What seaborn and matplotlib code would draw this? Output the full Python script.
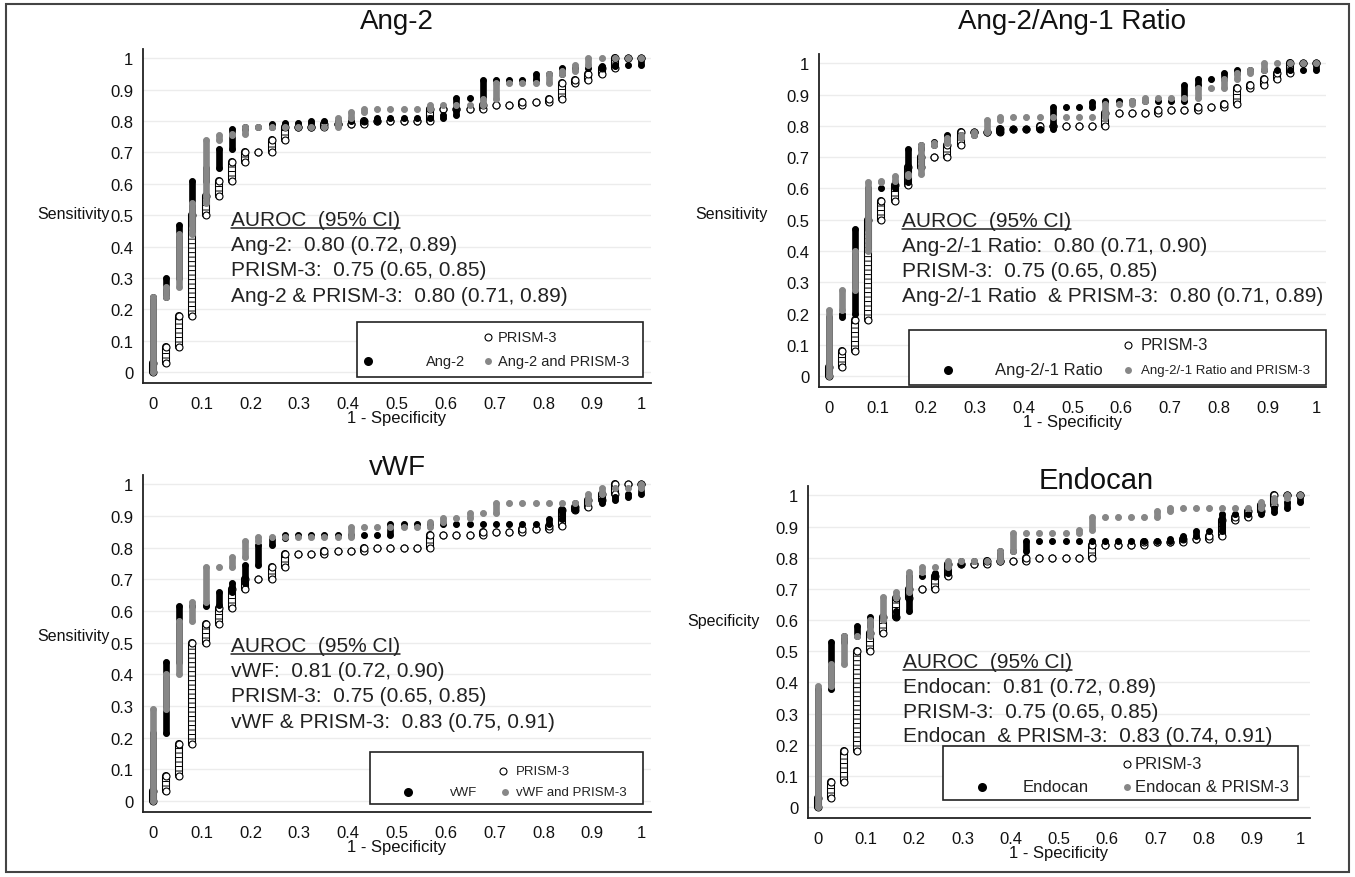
import numpy as np
import pandas as pd
import matplotlib.pyplot as plt
import seaborn as sns
from matplotlib.lines import Line2D
from matplotlib.patches import Rectangle

W, H = 1355, 878

# ROC data: number of false positives out of 37 non-events (columns),
# sensitivity reached at the top of each column
N_NEG = 37
FP = list(range(38))

PRISM3 = [0.03, 0.08, 0.18, 0.50, 0.56, 0.61, 0.67, 0.70, 0.70, 0.74, 0.78, 0.78, 0.78,
          0.79, 0.79, 0.79, 0.80, 0.80, 0.80, 0.80, 0.80, 0.84, 0.84, 0.84, 0.84, 0.85,
          0.85, 0.85, 0.86, 0.86, 0.87, 0.92, 0.93, 0.95, 0.97, 1.00, 1.00, 1.00]

ANG2 = [0.24, 0.30, 0.47, 0.61, 0.65, 0.71, 0.775, 0.78, 0.78, 0.79, 0.795, 0.795, 0.80,
        0.80, 0.80, 0.80, 0.80, 0.81, 0.81, 0.81, 0.81, 0.81, 0.82, 0.875, 0.875, 0.93,
        0.93, 0.93, 0.93, 0.95, 0.95, 0.97, 0.97, 0.97, 0.975, 0.98, 0.98, 1.00]
ANG2_PRISM3 = [0.24, 0.27, 0.44, 0.54, 0.74, 0.755, 0.76, 0.78, 0.78, 0.78, 0.78, 0.78, 0.78,
               0.78, 0.81, 0.83, 0.84, 0.84, 0.84, 0.84, 0.84, 0.85, 0.85, 0.85, 0.85, 0.87,
               0.92, 0.92, 0.92, 0.92, 0.95, 0.96, 0.98, 1.00, 1.00, 1.00, 1.00, 1.00]

RATIO = [0.19, 0.20, 0.47, 0.60, 0.60, 0.62, 0.725, 0.74, 0.75, 0.77, 0.77, 0.78, 0.78,
         0.79, 0.79, 0.79, 0.79, 0.86, 0.86, 0.86, 0.875, 0.88, 0.88, 0.88, 0.88, 0.88,
         0.88, 0.93, 0.95, 0.95, 0.97, 0.98, 0.98, 0.98, 0.98, 0.98, 0.98, 1.00]
RATIO_PRISM3 = [0.21, 0.275, 0.40, 0.62, 0.625, 0.64, 0.645, 0.74, 0.745, 0.76, 0.77, 0.78,
                0.82, 0.83, 0.83, 0.83, 0.83, 0.83, 0.83, 0.83, 0.83, 0.87, 0.87, 0.88, 0.89,
                0.89, 0.89, 0.89, 0.92, 0.92, 0.95, 0.97, 0.98, 1.00, 1.00, 1.00, 1.00, 1.00]

VWF = [0.215, 0.44, 0.615, 0.615, 0.62, 0.66, 0.69, 0.745, 0.81, 0.83, 0.84, 0.84, 0.84,
       0.84, 0.84, 0.84, 0.84, 0.84, 0.875, 0.875, 0.875, 0.875, 0.875, 0.875, 0.875, 0.875,
       0.875, 0.875, 0.875, 0.875, 0.89, 0.92, 0.94, 0.94, 0.95, 0.96, 0.97, 1.00]
VWF_PRISM3 = [0.29, 0.40, 0.57, 0.63, 0.74, 0.74, 0.77, 0.82, 0.835, 0.835, 0.835, 0.835,
              0.835, 0.835, 0.835, 0.865, 0.865, 0.865, 0.865, 0.865, 0.865, 0.88, 0.895,
              0.895, 0.91, 0.91, 0.94, 0.94, 0.94, 0.94, 0.94, 0.94, 0.94, 0.97, 0.99, 0.99,
              0.99, 1.00]

ENDOCAN = [0.38, 0.53, 0.55, 0.58, 0.61, 0.61, 0.63, 0.74, 0.74, 0.75, 0.78, 0.79, 0.79,
           0.79, 0.82, 0.82, 0.855, 0.855, 0.855, 0.855, 0.855, 0.855, 0.855, 0.855, 0.855,
           0.855, 0.855, 0.86, 0.87, 0.885, 0.885, 0.94, 0.94, 0.94, 0.945, 0.96, 0.98, 1.00]
ENDOCAN_PRISM3 = [0.39, 0.46, 0.55, 0.55, 0.60, 0.675, 0.69, 0.755, 0.77, 0.77, 0.79, 0.79,
                  0.79, 0.79, 0.82, 0.88, 0.88, 0.88, 0.88, 0.88, 0.89, 0.93, 0.93, 0.93,
                  0.93, 0.93, 0.95, 0.96, 0.96, 0.96, 0.96, 0.96, 0.96, 0.96, 0.98, 0.99,
                  1.00, 1.00]

TICKS = [0, 0.1, 0.2, 0.3, 0.4, 0.5, 0.6, 0.7, 0.8, 0.9, 1]
TICK_LABELS = ["0", "0.1", "0.2", "0.3", "0.4", "0.5", "0.6", "0.7", "0.8", "0.9", "1"]

TITLES = ["Ang-2", "Ang-2/Ang-1 Ratio", "vWF", "Endocan"]
YLABELS = ["Sensitivity", "Sensitivity", "Sensitivity", "Specificity"]
AUROC_TEXT = [
    ["Ang-2:  0.80 (0.72, 0.89)", "PRISM-3:  0.75 (0.65, 0.85)",
     "Ang-2 & PRISM-3:  0.80 (0.71, 0.89)"],
    ["Ang-2/-1 Ratio:  0.80 (0.71, 0.90)", "PRISM-3:  0.75 (0.65, 0.85)",
     "Ang-2/-1 Ratio  & PRISM-3:  0.80 (0.71, 0.89)"],
    ["vWF:  0.81 (0.72, 0.90)", "PRISM-3:  0.75 (0.65, 0.85)",
     "vWF & PRISM-3:  0.83 (0.75, 0.91)"],
    ["Endocan:  0.81 (0.72, 0.89)", "PRISM-3:  0.75 (0.65, 0.85)",
     "Endocan  & PRISM-3:  0.83 (0.74, 0.91)"],
]
LEGEND_LABELS = [
    ["PRISM-3", "Ang-2", "Ang-2 and PRISM-3"],
    ["PRISM-3", "Ang-2/-1 Ratio", "Ang-2/-1 Ratio and PRISM-3"],
    ["PRISM-3", "vWF", "vWF and PRISM-3"],
    ["PRISM-3", "Endocan", "Endocan & PRISM-3"],
]
SERIES = [(ANG2, ANG2_PRISM3), (RATIO, RATIO_PRISM3), (VWF, VWF_PRISM3), (ENDOCAN, ENDOCAN_PRISM3)]

GRAY = "#878787"

# layout, in pixels of the 1355x878 picture
AX_BOX = [(143, 50, 651, 384), (819, 55, 1326, 388), (143, 476, 651, 813), (808, 487, 1310, 819)]
TITLE_POS = [(397, 22, 20), (1072, 22, 20), (397, 468, 20), (1096, 481, 21)]
YLABEL_POS = [(110, 215), (768, 215), (110, 637), (760, 622)]
TEXT_POS = [(231, [226, 251, 276.5, 302]), (902, [227, 252, 277, 302]),
            (231, [652, 677, 702, 728]), (903, [668, 693, 718, 742])]
LEGEND_BOX = [(357, 323, 643, 378), (909, 331, 1326, 386), (370, 753, 643, 805), (943, 747, 1298, 801)]
LEGEND_ITEMS = [
    [(488, 338, 498, 10.5), (368, 362, 426, 10.5), (488, 362, 498, 10.5)],
    [(1128, 346, 1141, 12), (948, 371, 995, 12), (1128, 371, 1141, 9.5)],
    [(503, 772, 516, 9.5), (408, 793, 450, 9.5), (505, 793, 516, 9.5)],
    [(1127, 765, 1135, 12), (982, 788, 1023, 12), (1127, 788, 1135, 12)],
]


def fx(x):
    return x / W


def fy(y):
    return 1 - y / H


def columns(top):
    hi = np.array(top, dtype=float)
    lo = np.concatenate([[0.0], hi[:-1]])
    return pd.DataFrame({"x": np.array(FP) / N_NEG, "lo": lo, "hi": hi})


def draw_roc(ax, top, kind, z):
    d = columns(top)
    pts = pd.concat([d[["x", "lo"]].rename(columns={"lo": "y"}),
                     d[["x", "hi"]].rename(columns={"hi": "y"})])
    seg = d[d.hi > d.lo]
    if kind == "open":
        # a column of stacked hollow circles: outline, white body, thin rungs
        ax.vlines(seg.x, seg.lo, seg.hi, colors="black", linewidth=5.8, capstyle="round", zorder=z)
        ax.vlines(seg.x, seg.lo, seg.hi, colors="white", linewidth=4.2, capstyle="round", zorder=z + 0.1)
        ax.vlines(seg.x, seg.lo, seg.hi, colors="black", linewidth=4.2, capstyle="butt",
                  linestyles=[(0, (0.17, 0.6))], zorder=z + 0.15)
        sns.scatterplot(data=pts, x="x", y="y", ax=ax, marker="o", s=25, color="white",
                        edgecolor="black", linewidth=0.8, zorder=z + 0.2, legend=False)
    else:
        col = "black" if kind == "black" else GRAY
        ax.vlines(seg.x, seg.lo, seg.hi, colors=col, linewidth=4.8, capstyle="round", zorder=z)
        sns.scatterplot(data=pts, x="x", y="y", ax=ax, marker="o", s=23, color=col,
                        linewidth=0, zorder=z + 0.1, legend=False)


sns.set_style("white")
plt.rcParams["font.family"] = ["Liberation Sans", "DejaVu Sans"]

fig = plt.figure(figsize=(W / 100, H / 100), dpi=100)

texts_to_underline = []
for i in range(4):
    l, t, r, b = AX_BOX[i]
    ax = fig.add_axes([fx(l), fy(b), (r - l) / W, (b - t) / H])
    marker_top, combo_top = SERIES[i]
    draw_roc(ax, PRISM3, "open", 2)
    draw_roc(ax, marker_top, "black", 3)
    draw_roc(ax, combo_top, "gray", 4)

    ax.set_xlim(-0.02, 1.02)
    ax.set_ylim(-0.035, 1.03)
    ax.set_xticks(TICKS, TICK_LABELS)
    ax.set_yticks(TICKS, TICK_LABELS)
    ax.set_axisbelow(True)
    ax.grid(axis="y", color="#ececec", linewidth=1.0)
    ax.grid(axis="x", visible=False)
    for s in ["top", "right"]:
        ax.spines[s].set_visible(False)
    for s in ["left", "bottom"]:
        ax.spines[s].set_color("#222222")
        ax.spines[s].set_linewidth(1.3)
    ax.tick_params(axis="both", direction="out", length=5.5, width=1.1, colors="#222222",
                   labelsize=12, labelcolor="#111111")
    ax.tick_params(axis="y", pad=1.5)
    ax.tick_params(axis="x", pad=4)
    ax.set_xlabel("1 - Specificity", fontsize=12, labelpad=-1, color="#111111")
    ax.set_ylabel("")

    tx, ty, tfs = TITLE_POS[i]
    fig.text(fx(tx), fy(ty), TITLES[i], fontsize=tfs, ha="center", va="center", color="#111111")
    lx, ly = YLABEL_POS[i]
    fig.text(fx(lx), fy(ly), YLABELS[i], fontsize=11.5, ha="right", va="center", color="#111111")

    x0, ys = TEXT_POS[i]
    head = fig.text(fx(x0), fy(ys[0]), "AUROC  (95% CI)", fontsize=15, ha="left",
                    va="baseline", color="#222222")
    texts_to_underline.append((head, ys[0]))
    for line, yy in zip(AUROC_TEXT[i], ys[1:]):
        fig.text(fx(x0), fy(yy), line, fontsize=15, ha="left", va="baseline", color="#222222")

    # legend box drawn in Stata's layout
    bl, bt, br, bb = LEGEND_BOX[i]
    fig.add_artist(Rectangle((fx(bl), fy(bb)), (br - bl) / W, (bb - bt) / H, fill=True,
                             facecolor="white", edgecolor="#222222", linewidth=1.2,
                             transform=fig.transFigure, zorder=5))
    styles = [dict(marker="o", markersize=5, markerfacecolor="white", markeredgecolor="black",
                   markeredgewidth=0.8),
              dict(marker="o", markersize=6.5, markerfacecolor="black", markeredgewidth=0),
              dict(marker="o", markersize=5, markerfacecolor=GRAY, markeredgewidth=0)]
    for (mx, my, txt_x, fs), label, st in zip(LEGEND_ITEMS[i], LEGEND_LABELS[i], styles):
        fig.add_artist(Line2D([fx(mx)], [fy(my)], linestyle="none", transform=fig.transFigure,
                              zorder=6, **st))
        fig.text(fx(txt_x), fy(my), label, fontsize=fs, ha="left", va="center",
                 color="#222222", zorder=6)

# underline the AUROC headings
fig.canvas.draw()
renderer = fig.canvas.get_renderer()
for txt, base in texts_to_underline:
    bb = txt.get_window_extent(renderer)
    yline = fy(base + 2.5)
    fig.add_artist(Line2D([bb.x0 / W, bb.x1 / W], [yline, yline], color="#222222",
                          linewidth=1.1, transform=fig.transFigure))

# outer frame
fig.add_artist(Rectangle((fx(6), fy(873)), (1349 - 6) / W, (873 - 5) / H, fill=False,
                         edgecolor="#444444", linewidth=1.5, transform=fig.transFigure))

fig.savefig("out.png", dpi=100, facecolor="white")
